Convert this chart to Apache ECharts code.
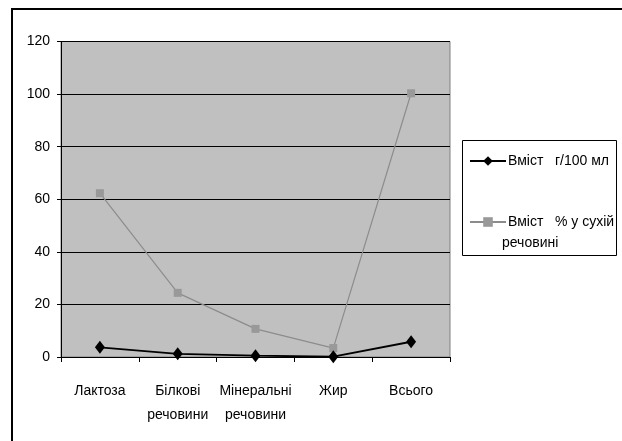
<!DOCTYPE html>
<html><head><meta charset="utf-8">
<script src="https://cdn.jsdelivr.net/npm/echarts@6/dist/echarts.min.js"></script>
<style>html,body{margin:0;padding:0;background:#fff}#c{width:622px;height:441px}</style>
</head><body><div id="c"></div>
<script>
const categories = ['Лактоза', 'Білкові\nречовини', 'Мінеральні\nречовини', 'Жир', 'Всього'];
const seriesNames = ['Вміст   г/100 мл', 'Вміст   % у сухій'];
const contentPer100 = [3.7, 1.2, 0.5, 0.1, 5.8];
const contentDryPct = [62.3, 24.4, 10.7, 3.4, 100.3];
const yTicks = { min: 0, max: 120, interval: 20 };

const font = '"Liberation Sans", Arial, sans-serif';
const fs = 14;
const chart = echarts.init(document.getElementById('c'), null, { renderer: 'canvas' });
chart.setOption({
  animation: false,
  backgroundColor: '#fff',
  textStyle: { fontFamily: font },
  graphic: [
    { type: 'rect', z: -10, shape: { x: 12, y: 9, width: 700, height: 500 },
      style: { fill: 'none', stroke: '#000', lineWidth: 2 } },
    { type: 'rect', z: 0, shape: { x: 462.5, y: 140.5, width: 154, height: 115 },
      style: { fill: '#fff', stroke: '#000', lineWidth: 1 } },
    { type: 'text', z: 10, left: 502, top: 236,
      style: { text: 'речовині', fill: '#000', font: fs + 'px ' + font } }
  ],
  grid: { left: 61, top: 41.5, right: 172, bottom: 84, show: true,
    backgroundColor: '#c0c0c0', borderColor: '#808080', borderWidth: 1 },
  legend: [
    { data: [seriesNames[0]], left: 464, top: 149, itemWidth: 36, itemHeight: 12, itemGap: 2,
      textStyle: { fontSize: fs, color: '#000', fontFamily: font, padding: [0,0,0,-3] } },
    { data: [seriesNames[1]], left: 464, top: 210, itemWidth: 36, itemHeight: 12, itemGap: 2,
      textStyle: { fontSize: fs, color: '#000', fontFamily: font, padding: [0,0,0,-3] } }
  ],
  xAxis: {
    type: 'category', data: categories, boundaryGap: true,
    axisLine: { lineStyle: { color: '#000', width: 1 } },
    axisTick: { show: true, inside: false, length: 5, alignWithLabel: false, lineStyle: { color: '#000' } },
    axisLabel: { color: '#000', fontSize: fs, margin: 22, lineHeight: 24, interval: 0, fontFamily: font },
    splitLine: { show: false }
  },
  yAxis: {
    type: 'value', min: yTicks.min, max: yTicks.max, interval: yTicks.interval,
    axisLine: { show: true, lineStyle: { color: '#000', width: 1 } },
    axisTick: { show: true, length: 4, lineStyle: { color: '#000' } },
    axisLabel: { color: '#000', fontSize: fs, margin: 11, fontFamily: font },
    splitLine: { show: true, lineStyle: { color: '#000', width: 1 } }
  },
  series: [
    { name: seriesNames[0], type: 'line', data: contentPer100, z: 3,
      symbol: 'diamond', symbolSize: [10, 13],
      itemStyle: { color: '#000' }, lineStyle: { color: '#000', width: 1.8 } },
    { name: seriesNames[1], type: 'line', data: contentDryPct, z: 2,
      symbol: 'rect', symbolSize: 8,
      itemStyle: { color: '#999' }, lineStyle: { color: '#8c8c8c', width: 1.2 } }
  ]
});
</script></body></html>
